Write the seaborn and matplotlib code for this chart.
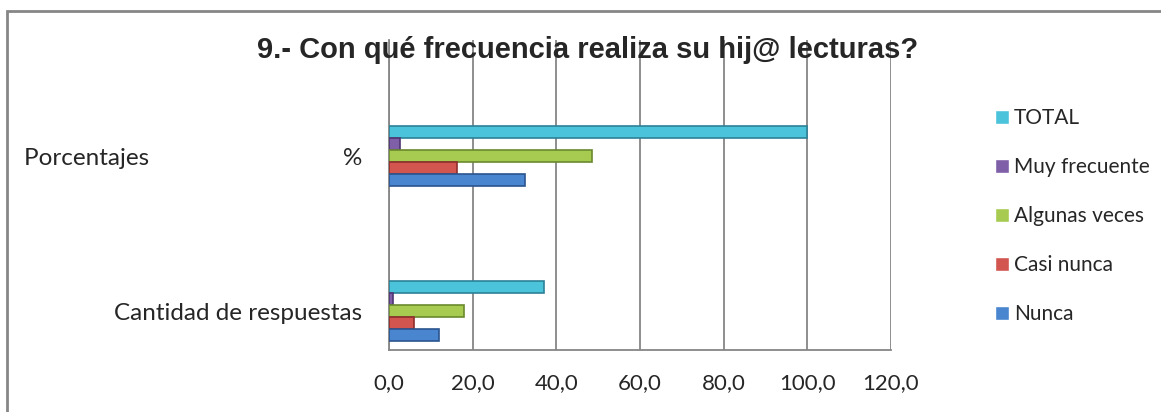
import numpy as np
import pandas as pd
import seaborn as sns
import matplotlib.pyplot as plt
from matplotlib.patches import Rectangle

# datos
categorias = ["Porcentajes", "Cantidad de respuestas"]
series = ["TOTAL", "Muy frecuente", "Algunas veces", "Casi nunca", "Nunca"]
porcentajes = [100.0, 2.7, 48.6, 16.2, 32.4]
cantidades = [37, 1, 18, 6, 12]
etiquetas_x = ["0,0", "20,0", "40,0", "60,0", "80,0", "100,0", "120,0"]

colores = ["#4BC3DB", "#7E5FA8", "#A6CB50", "#D2554F", "#4A86CF"]
bordes = ["#2C8197", "#4E3673", "#6A8A2E", "#8E2F2C", "#2B5590"]

df = pd.DataFrame({
    "categoria": [categorias[0]] * 5 + [categorias[1]] * 5,
    "serie": series * 2,
    "valor": porcentajes + cantidades,
})

sns.set_style("white")
plt.rcParams["font.family"] = ["Lato", "DejaVu Sans"]

W, H = 1161, 412
fig = plt.figure(figsize=(W / 100, H / 100), dpi=100)
ax = fig.add_axes([389 / W, (H - 350) / H, (891 - 389) / W, (350 - 40) / H])

sns.barplot(data=df, y="categoria", x="valor", hue="serie", order=categorias,
            hue_order=series, palette=colores, width=0.39, orient="h",
            saturation=1, ax=ax, zorder=3)

for i, cont in enumerate(ax.containers):
    for bar in cont:
        bar.set_edgecolor(bordes[i])
        bar.set_linewidth(1.2)

ax.set_xlim(0, 120)
ax.set_ylim(1.25, -0.75)
ax.set_xticks(np.arange(0, 121, 20))
ax.set_xticklabels(etiquetas_x, fontsize=16)
ax.set_yticks([0, 1])
ax.set_yticklabels(["Porcentajes" + " " * 31 + "%", "Cantidad de respuestas"], fontsize=17.5)
ax.set_yticks([-0.75, -0.25, 0.25, 0.75, 1.25], minor=True)
ax.tick_params(axis="y", which="major", length=0, pad=19)
ax.tick_params(axis="y", which="minor", length=5.8, width=1.2, color="#868686", direction="out")
ax.tick_params(axis="x", length=5.8, width=1.2, color="#868686", direction="out", pad=11)
ax.set_xlabel("")
ax.set_ylabel("")

ax.grid(axis="x", color="#868686", linewidth=1.3, zorder=0)
ax.set_axisbelow(True)
for s in ["top", "right"]:
    ax.spines[s].set_visible(False)
for s in ["left", "bottom"]:
    ax.spines[s].set_color("#868686")
    ax.spines[s].set_linewidth(1.3)

leg = ax.legend(loc="upper left", bbox_to_anchor=(987 / W, (H - 100) / H),
                bbox_transform=fig.transFigure, frameon=False, fontsize=15,
                handlelength=0.65, handleheight=0.65, handletextpad=0.25,
                labelspacing=1.39, borderaxespad=0)

fig.text(588 / W, (H - 58) / H, "9.- Con qué frecuencia realiza su hij@ lecturas?",
         ha="center", va="baseline", fontsize=21, fontweight="bold",
         family=["Liberation Sans", "DejaVu Sans"])

# marco del area del grafico
fig.patches.append(Rectangle((7 / W, -0.2), 1.2, (H - 11) / H + 0.2,
                             transform=fig.transFigure, fill=False,
                             edgecolor="#868686", linewidth=2, zorder=0))

fig.savefig("out.png", dpi=100)
